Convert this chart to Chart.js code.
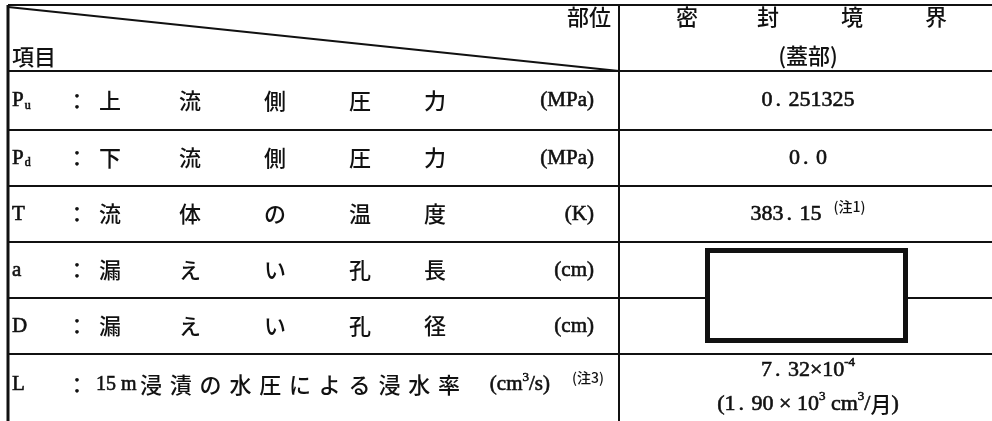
<!DOCTYPE html>
<html lang="ja">
  <head>
    <meta charset="utf-8" />
    <title>密封境界 漏えい条件</title>
    <style>
      html, body { margin: 0; padding: 0; background: #fff; }
      canvas { display: block; }
    </style>
  </head>
  <body>
    <div style="width: 992px; height: 421px">
      <canvas id="canvas" width="992" height="421"></canvas>
    </div>

    <script src="https://cdn.jsdelivr.net/npm/chart.js"></script>

    <script>
      // table content
      const headerItem = "項目";
      const headerPart = "部位";
      const headerCols = ["密", "封", "境", "界"];
      const headerSub = "(蓋部)";
      const symbols = ["P", "P", "T", "a", "D", "L"];
      const symbolSubs = ["u", "d", "", "", "", ""];
      const names = [
        ["上", "流", "側", "圧", "力"],
        ["下", "流", "側", "圧", "力"],
        ["流", "体", "の", "温", "度"],
        ["漏", "え", "い", "孔", "長"],
        ["漏", "え", "い", "孔", "径"],
        ["15 m", "浸漬の水圧による浸水率"],
      ];
      const units = ["(MPa)", "(MPa)", "(K)", "(cm)", "(cm)", "(cm³/s)"];
      const unitNotes = ["", "", "", "", "", "(注3)"];
      const values = [["0.251325"], ["0.0"], ["383.15"], [], [], ["7.32×10⁻⁴", "(1.90 × 10³ cm³/月)"]];
      const valueNotes = ["", "", "(注1)", "", "", ""];

      // layout (in scale units = pixels of the reference)
      const W = 992, H = 421;
      const tableTop = 5, tableLeft = 8, divider = 619;
      const rowEdges = [71, 130, 186, 242, 298, 354, 421];
      const symX = 12, colonX = 77, nameCols = [110, 190, 275, 360, 435];
      const freeNameX = [96, 140];
      const unitRight = 594, valueX = 808;
      const headerColX = [687, 768, 852, 936];
      const maskBox = { x0: 707.5, x1: 905.5, y0: 250.5, y1: 340.5 };

      const jp = (s) => '500 ' + s + 'px "Noto Sans CJK JP"';
      const lat = (s) => s + 'px "Liberation Serif"';
      const SUP = { "⁻": "-", "⁴": "4", "³": "3" };

      // latin text printed slightly heavy, like the scanned table
      function txt(c, s, x, y) {
        c.fillText(s, x, y);
        c.lineWidth = 0.6;
        c.strokeText(s, x, y);
      }
      // one glyph at a time: wide period cell, small raised superscripts,
      // CJK glyphs in the Japanese font
      function glyph(ch, size) {
        if (SUP[ch]) return { t: SUP[ch], font: lat(Math.round(size * 0.6)), dy: -size * 0.35, adv: null, cjk: false };
        if (/[\u3000-\u9fff]/.test(ch)) return { t: ch, font: jp(size - 1), dy: 0, adv: null, cjk: true };
        return { t: ch, font: lat(size), dy: 0, adv: ch === "." ? 16 : null, cjk: false };
      }
      function richWidth(c, s, size) {
        let w = 0;
        for (const ch of s) {
          const g = glyph(ch, size);
          c.font = g.font;
          w += g.adv !== null ? g.adv : c.measureText(g.t).width;
        }
        return w;
      }
      function drawRich(c, s, x, y, size) {
        c.textAlign = "left";
        for (const ch of s) {
          const g = glyph(ch, size);
          c.font = g.font;
          const w = g.adv !== null ? g.adv : c.measureText(g.t).width;
          const ox = ch === "." ? 3 : 0;
          if (g.cjk) c.fillText(g.t, x, y + g.dy);
          else txt(c, g.t, x + ox, y + g.dy);
          x += w;
        }
        return x;
      }

      const tablePlugin = {
        id: "table",
        afterDraw(chart) {
          const c = chart.ctx;
          const X = (v) => chart.scales.x.getPixelForValue(v);
          const Y = (v) => chart.scales.y.getPixelForValue(v);
          c.save();
          c.fillStyle = "#111";
          c.strokeStyle = "#111";
          c.textBaseline = "middle";

          // grid
          c.lineWidth = 2;
          c.beginPath();
          c.moveTo(X(tableLeft), Y(tableTop));
          c.lineTo(X(W), Y(tableTop));
          rowEdges.slice(0, -1).forEach((e) => {
            c.moveTo(X(tableLeft), Y(e));
            c.lineTo(X(W), Y(e));
          });
          c.moveTo(X(divider), Y(tableTop));
          c.lineTo(X(divider), Y(H));
          c.stroke();
          c.lineWidth = 3;
          c.beginPath();
          c.moveTo(X(tableLeft), Y(tableTop));
          c.lineTo(X(tableLeft), Y(H));
          c.stroke();
          c.lineWidth = 2;
          c.beginPath();
          c.moveTo(X(tableLeft), Y(tableTop + 2));
          c.lineTo(X(divider), Y(rowEdges[0]));
          c.stroke();

          // header
          c.font = jp(22);
          c.textAlign = "left";
          c.fillText(headerItem, X(12), Y(57));
          c.textAlign = "right";
          c.fillText(headerPart, X(611), Y(17));
          c.textAlign = "center";
          headerCols.forEach((h, i) => c.fillText(h, X(headerColX[i]), Y(17)));
          c.fillText(headerSub, X(valueX), Y(56));

          // rows
          names.forEach((row, i) => {
            const yc = Y((rowEdges[i] + rowEdges[i + 1]) / 2 + (i === 5 ? -3 : 0));
            c.textAlign = "left";
            c.font = lat(21);
            txt(c, symbols[i], X(symX), yc);
            if (symbolSubs[i]) {
              const w = c.measureText(symbols[i]).width;
              c.font = lat(12);
              txt(c, symbolSubs[i], X(symX) + w + 1, yc + 5);
            }
            c.font = jp(22);
            c.textAlign = "center";
            c.fillText("：", X(colonX), yc);
            if (row.length === 2) {
              c.textAlign = "left";
              c.font = lat(20);
              txt(c, row[0], X(freeNameX[0]), yc);
              c.font = jp(22);
              c.letterSpacing = "7.8px";
              c.fillText(row[1], X(freeNameX[1]), yc);
              c.letterSpacing = "0px";
            } else {
              row.forEach((ch, j) => c.fillText(ch, X(nameCols[j]), yc));
            }
            // unit
            let ur = X(unitRight);
            if (unitNotes[i]) {
              c.font = jp(14);
              c.textAlign = "right";
              c.fillText(unitNotes[i], X(604), yc - 7);
              ur = X(550);
            }
            drawRich(c, units[i], ur - richWidth(c, units[i], 21), yc, 21);

            // value
            const vals = values[i];
            const vy = vals.length > 1 ? [Y(370), Y(404)] : [yc];
            vals.forEach((v, k) => {
              const w = richWidth(c, v, 22);
              let noteW = 0;
              if (valueNotes[i]) {
                c.font = jp(14);
                noteW = c.measureText(valueNotes[i]).width + 12;
              }
              let x = X(valueX) - (w + noteW) / 2;
              x = drawRich(c, v, x, vy[k], 22);
              if (valueNotes[i]) {
                c.font = jp(14);
                c.textAlign = "left";
                c.fillText(valueNotes[i], x + 12, vy[k] - 7);
              }
            });
          });

          // blank masked cell
          const mb = maskBox;
          c.fillStyle = "#fff";
          c.fillRect(X(mb.x0), Y(mb.y0), X(mb.x1) - X(mb.x0), Y(mb.y1) - Y(mb.y0));
          c.lineWidth = 5;
          c.strokeRect(X(mb.x0), Y(mb.y0), X(mb.x1) - X(mb.x0), Y(mb.y1) - Y(mb.y0));
          c.restore();
        },
      };

      new Chart(document.getElementById("canvas"), {
        type: "scatter",
        data: { datasets: [{ data: [] }] },
        options: {
          responsive: false,
          animation: false,
          layout: { padding: 0 },
          plugins: { legend: { display: false }, tooltip: { enabled: false } },
          scales: {
            x: { type: "linear", min: 0, max: W, display: false },
            y: { type: "linear", min: 0, max: H, reverse: true, display: false },
          },
        },
        plugins: [tablePlugin],
      });
    </script>
  </body>
</html>
